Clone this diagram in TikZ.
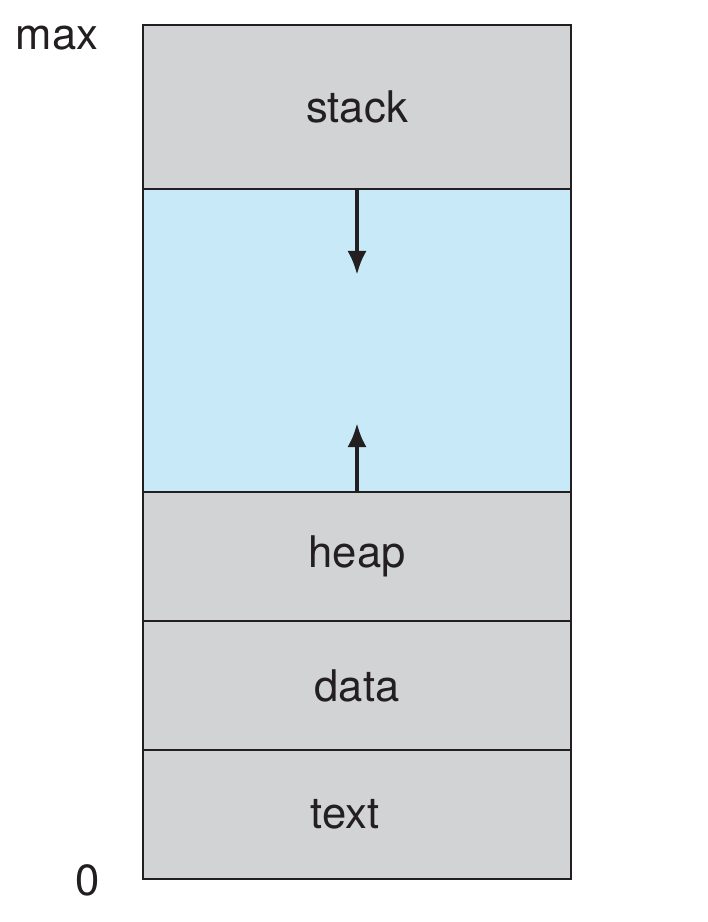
\documentclass[tikz,border=0pt]{standalone}
\usepackage{fontspec}
\setmainfont{TeX Gyre Heros}
\usetikzlibrary{positioning}
\usetikzlibrary{arrows.meta}
\definecolor{segment}{RGB}{210,211,213}
\definecolor{freespace}{RGB}{199,233,248}
\definecolor{outline}{RGB}{35,31,32}

\begin{document}
\begin{tikzpicture}[x=0.025cm, y=-0.025cm]
            \tikzset{seg/.style = {draw=outline, line width=1.4pt, fill=segment, minimum width=10.7cm, outer sep=0pt, inner sep=0pt, font=\fontsize{31}{36}\selectfont, text=outline}}
            \tikzset{gap/.style = {seg, fill=freespace}}
            \tikzset{growarrow/.style = {outline, line width=3.1pt, -{Latex[length=0.6cm, width=0.48cm]}}}
            \tikzset{bound/.style = {font=\fontsize{31}{36}\selectfont, text=outline}}
            \useasboundingbox (0, 0) rectangle (708, 922);
            \node[seg, minimum height=4.1cm] (stack) at (357, 107) {stack};
            \node[gap, minimum height=7.575cm, below=0pt of stack] (free) {};
            \node[seg, minimum height=3.225cm, below=0pt of free] (heap) {heap};
            \node[seg, minimum height=3.225cm, below=0pt of heap] (data) {data};
            \node[seg, minimum height=3.225cm, below=0pt of data] (text) {\hspace*{-0.6cm}text};
            \coordinate (stacktip) at (357, 275);
            \coordinate (heaptip) at (357, 423);
            \draw[growarrow] (stack.south) -- (stacktip);
            \draw[growarrow] (heap.north) -- (heaptip);
            \node[bound] (max) at (57, 38) {max};
            \node[bound] (zero) at (88, 880) {0};
\end{tikzpicture}
\end{document}
